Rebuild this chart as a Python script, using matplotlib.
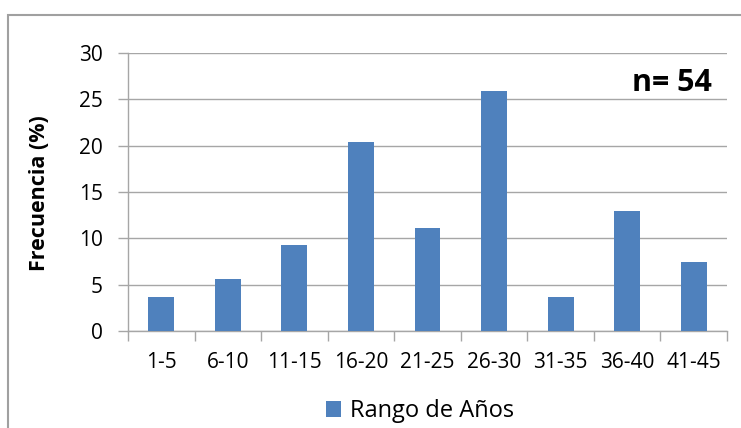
import matplotlib
matplotlib.use("Agg")
import matplotlib.pyplot as plt
from matplotlib.patches import Rectangle
import numpy as np

categories = ["1-5", "6-10", "11-15", "16-20", "21-25", "26-30", "31-35", "36-40", "41-45"]
values = [3.7, 5.56, 9.26, 20.37, 11.11, 25.93, 3.7, 12.96, 7.41]
series_name = "Rango de Años"
y_ticks = [0, 5, 10, 15, 20, 25, 30]

plt.rcParams['font.family'] = ['Open Sans', 'DejaVu Sans']

W, H = 741, 428
fig = plt.figure(figsize=(W / 100, H / 100), dpi=100)
ax = fig.add_axes([128 / W, 1 - 331 / H, (727 - 128) / W, (331 - 53) / H])

x = np.arange(len(categories))
ax.bar(x, values, width=0.39, color="#4F81BD", zorder=3, label=series_name)

ax.set_xlim(-0.5, len(categories) - 0.5)
ax.set_ylim(0, 30)
ax.set_yticks(y_ticks)
ax.set_yticklabels([str(t) for t in y_ticks], fontsize=15)
ax.yaxis.grid(True, color="#A6A6A6", linewidth=1.0, zorder=0)

ax.set_xticks(x)
ax.set_xticklabels(categories, fontsize=15)
ax.tick_params(axis='x', length=0, pad=15)
ax.set_xticks(np.arange(len(categories) + 1) - 0.5, minor=True)
ax.tick_params(axis='x', which='minor', length=7, color="#A6A6A6", width=1.0)
ax.tick_params(axis='y', length=7, color="#A6A6A6", width=1.0, pad=11)

for s in ['top', 'right']:
    ax.spines[s].set_visible(False)
for s in ['left', 'bottom']:
    ax.spines[s].set_color("#A6A6A6")
    ax.spines[s].set_linewidth(1.0)

fig.text(40 / W, 1 - 193 / H, "Frecuencia (%)", rotation=90, ha='center', va='center',
         fontsize=15.5, fontweight='bold')
fig.text(712 / W, 1 - 83 / H, "n= 54", ha='right', va='center', fontsize=22, fontweight='bold')

leg = fig.legend(loc='center', bbox_to_anchor=(420 / W, 1 - 411 / H), frameon=False,
                 fontsize=17, handlelength=0.65, handleheight=0.65, handletextpad=0.4)

fig.patches.append(Rectangle((8 / W, -0.2), 2, (H - 15) / H + 0.2, transform=fig.transFigure,
                             fill=False, edgecolor="#A0A0A0", linewidth=1.5))

fig.savefig("out.png", dpi=100)
